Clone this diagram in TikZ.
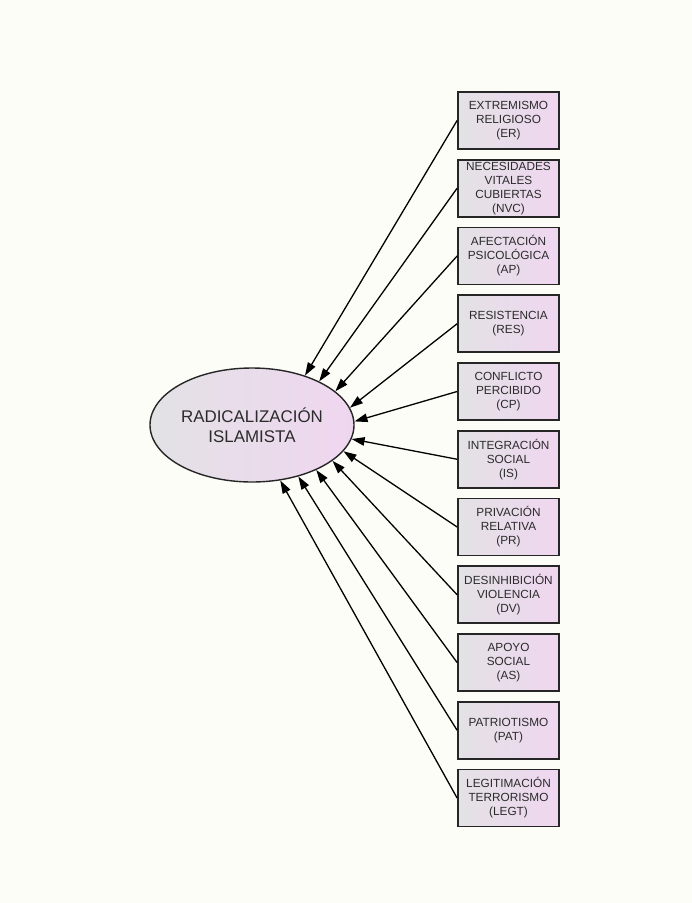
\documentclass[tikz,border=0pt]{standalone}
\usepackage{fontspec}
\setmainfont{Liberation Sans}
\usetikzlibrary{arrows.meta,shapes.geometric}
\definecolor{paper}{HTML}{FDFDF8}
\definecolor{shadeL}{HTML}{E3E2E5}
\definecolor{shadeR}{HTML}{EFD6F0}
\definecolor{ink}{HTML}{2B2B2B}
\begin{document}
\begin{tikzpicture}[x=1pt,y=-1pt,
  factor/.style={rectangle, draw=black!85, line width=1.8pt,
    minimum width=101pt, minimum height=57pt, inner sep=0pt,
    left color=shadeL, right color=shadeR, align=center, text=ink,
    font=\fontsize{11.8}{14}\selectfont},
  latent/.style={ellipse, draw=black!85, line width=1.4pt,
    minimum width=204pt, minimum height=114pt, inner sep=0pt,
    left color=shadeL, right color=shadeR, align=center, text=ink,
    font=\fontsize{16.9}{20}\selectfont},
  effect/.style={-{Triangle[length=13pt,width=8.5pt]}, line width=1.3pt, black}]
  % page
  \fill[paper] (0,0) rectangle (692,903);
  \useasboundingbox (0,0) rectangle (692,903);

  % latent construct
  \node[latent] (RI) at (252,425) {RADICALIZACIÓN\\ISLAMISTA};

  % observed indicators, one column on the right
  \foreach \n/\t [count=\i from 0] in {
      ER/{EXTREMISMO\\RELIGIOSO\\(ER)},
      NVC/{NECESIDADES\\VITALES\\CUBIERTAS\\(NVC)},
      AP/{AFECTACIÓN\\PSICOLÓGICA\\(AP)},
      RES/{RESISTENCIA\\(RES)},
      CP/{CONFLICTO\\PERCIBIDO\\(CP)},
      IS/{INTEGRACIÓN\\SOCIAL\\(IS)},
      PR/{PRIVACIÓN\\RELATIVA\\(PR)},
      DV/{DESINHIBICIÓN\\VIOLENCIA\\(DV)},
      AS/{APOYO\\SOCIAL\\(AS)},
      PAT/{PATRIOTISMO\\(PAT)},
      LEGT/{LEGITIMACIÓN\\TERRORISMO\\(LEGT)}}
    \node[factor] (\n) at (508.5,{120.5+67.75*\i}) {\t};

  % paths from each indicator into the construct
  \foreach \n/\a in {ER/43, NVC/33, AP/22, RES/10, CP/2, IS/-8,
                     PR/-16, DV/-24, AS/-35, PAT/-48, LEGT/-63}
    \draw[effect] (\n.west) -- (RI.\a);
\end{tikzpicture}
\end{document}
